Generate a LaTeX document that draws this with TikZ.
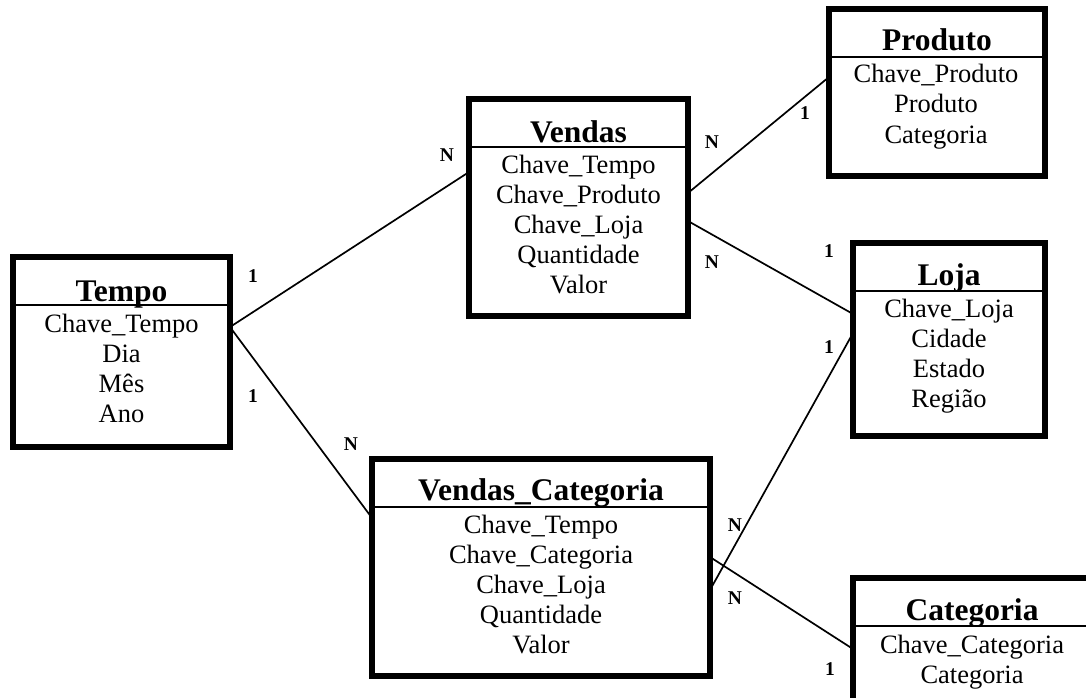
\documentclass[tikz,border=0pt]{standalone}
\usepackage{fontspec}
\setmainfont{Liberation Serif}
\usetikzlibrary{calc}

\begin{document}
\begin{tikzpicture}[x=1pt,y=-1pt]
    \tikzstyle{tabela}=[draw, rectangle, line width=5.5pt, inner sep=0pt, outer sep=0pt]
    \tikzstyle{titulo}=[inner sep=0pt, anchor=base, font=\bfseries\fontsize{31.5}{34}\selectfont]
    \tikzstyle{campo}=[inner sep=0pt, anchor=base, font=\fontsize{26.5}{30}\selectfont]
    \tikzstyle{card}=[inner sep=0pt, font=\bfseries\fontsize{19.5}{21}\selectfont]
    \tikzstyle{liga}=[line width=1.7pt]
    \tikzstyle{divisa}=[line width=1.4pt]

    \useasboundingbox (0,0) rectangle (1086,697);
    \clip (0,0) rectangle (1086,697);

    % tabelas
    \node[tabela, minimum width=217pt, minimum height=190pt] (tempo) at (121.5,352) {};
    \node[tabela, minimum width=219pt, minimum height=217pt] (vendas) at (578.5,207.5) {};
    \node[tabela, minimum width=216pt, minimum height=167pt] (produto) at (937,92.5) {};
    \node[tabela, minimum width=192pt, minimum height=193pt] (loja) at (949,339.5) {};
    \node[tabela, minimum width=338pt, minimum height=217pt] (vc) at (541,567.5) {};
    \node[tabela, minimum width=239pt, minimum height=134pt] (categoria) at (972.5,645) {};

    \foreach \t in {tempo, vendas, produto, loja, vc, categoria}
        \draw[divisa] ([yshift=-48pt]\t.north west) -- ([yshift=-48pt]\t.north east);

    % titulos e campos
    \node[titulo] (tempo-t) at (121.5,301) {Tempo};
    \foreach \c [count=\i] in {Chave\_Tempo, Dia, Mês, Ano}
        \node[campo] (tempo-\i) at (121.5,332+30.3*\i-30.3) {\c};

    \node[titulo] (vendas-t) at (578.5,142) {Vendas};
    \foreach \c [count=\i] in {Chave\_Tempo, Chave\_Produto, Chave\_Loja, Quantidade, Valor}
        \node[campo] (vendas-\i) at (578.5,173+30*\i-30) {\c};

    \node[titulo] (produto-t) at (937,50) {Produto};
    \foreach \c [count=\i] in {Chave\_Produto, Produto, Categoria}
        \node[campo] (produto-\i) at (936,82+30.5*\i-30.5) {\c};

    \node[titulo] (loja-t) at (949,285) {Loja};
    \foreach \c [count=\i] in {Chave\_Loja, Cidade, Estado, Região}
        \node[campo] (loja-\i) at (949,317+30.3*\i-30.3) {\c};

    \node[titulo] (vc-t) at (541,500) {Vendas\_Categoria};
    \foreach \c [count=\i] in {Chave\_Tempo, Chave\_Categoria, Chave\_Loja, Quantidade, Valor}
        \node[campo] (vc-\i) at (541,533+30*\i-30) {\c};

    \node[titulo] (categoria-t) at (972,620) {Categoria};
    \foreach \c [count=\i] in {Chave\_Categoria, Categoria}
        \node[campo] (categoria-\i) at (972,653+30*\i-30) {\c};

    % ligacoes
    \draw[liga] ($(tempo.north east)+(0,70)$) coordinate (t1) -- ($(vendas.north west)+(0,73)$);
    \draw[liga] (t1) -- ($(vc.north west)+(0,59)$);
    \draw[liga] ($(vendas.north east)+(0,94)$) -- ($(produto.north west)+(0,68)$);
    \draw[liga] ($(vendas.north east)+(0,122)$) -- ($(loja.north west)+(0,71)$);
    \draw[liga] ($(vc.north east)+(0,131)$) -- ($(loja.north west)+(0,90)$);
    \draw[liga] ($(vc.north east)+(0,98)$) -- ($(categoria.north west)+(0,71)$);

    % cardinalidades
    \node[card] (c1) at (253,276) {1};
    \node[card] (c2) at (253,396) {1};
    \node[card] (n1) at (447,155) {N};
    \node[card] (n2) at (351,444) {N};
    \node[card] (n3) at (712,142) {N};
    \node[card] (n4) at (712,262) {N};
    \node[card] (p1) at (805,113) {1};
    \node[card] (l1) at (829,251) {1};
    \node[card] (l2) at (829,347) {1};
    \node[card] (n5) at (735,525) {N};
    \node[card] (n6) at (735,598) {N};
    \node[card] (k1) at (830,669) {1};
\end{tikzpicture}
\end{document}
